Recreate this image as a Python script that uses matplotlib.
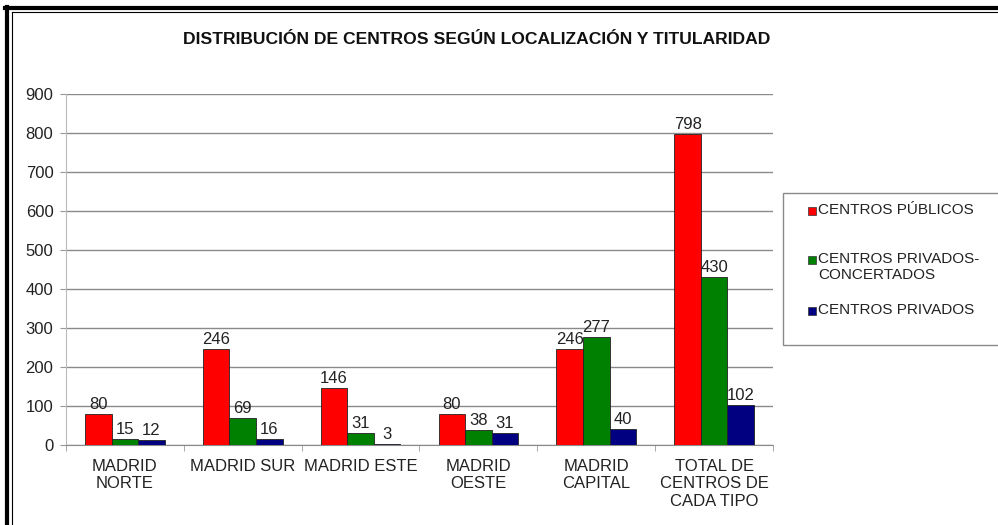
import numpy as np
import matplotlib
matplotlib.use('Agg')
import matplotlib.pyplot as plt
from matplotlib.patches import Rectangle
from matplotlib.lines import Line2D

plt.rcParams['font.family'] = ['Liberation Sans', 'DejaVu Sans']

# Data
categories = ['MADRID\nNORTE', 'MADRID SUR', 'MADRID ESTE', 'MADRID\nOESTE',
              'MADRID\nCAPITAL', 'TOTAL DE\nCENTROS DE\nCADA TIPO']
publicos = [80, 246, 146, 80, 246, 798]
concertados = [15, 69, 31, 38, 277, 430]
privados = [12, 16, 3, 31, 40, 102]
series_names = ['CENTROS PÚBLICOS', 'CENTROS PRIVADOS-\nCONCERTADOS', 'CENTROS PRIVADOS']
colors = ['#FF0000', '#008000', '#000080']

fig = plt.figure(figsize=(9.98, 5.25), dpi=100)
W, H = 998, 525
ax = fig.add_axes([66 / W, 1 - 445 / H, (773 - 66) / W, (445 - 94) / H])

x = np.arange(len(categories))
width = 0.225
series = [publicos, concertados, privados]
for i, (vals, col) in enumerate(zip(series, colors)):
    bars = ax.bar(x + (i - 1) * width, vals, width, color=col,
                  edgecolor='#222222', linewidth=0.6, zorder=3)
    for b, v in zip(bars, vals):
        ax.annotate(str(v), (b.get_x() + b.get_width() / 2, v),
                    xytext=(0, 1.5), textcoords='offset points',
                    ha='center', va='bottom', fontsize=12, color='#222222')

ax.set_xlim(-0.5, len(categories) - 0.5)
ax.set_ylim(0, 900)
ax.set_yticks(np.arange(0, 901, 100))
ax.yaxis.grid(True, color='#8a8a8a', linewidth=1, zorder=0)
ax.set_axisbelow(True)

ax.set_xticks(x)
ax.set_xticklabels(categories, fontsize=12, color='#222222', linespacing=1.2)
ax.set_xticks(np.arange(-0.5, len(categories)), minor=True)
ax.tick_params(axis='x', which='major', length=0, pad=10)
ax.tick_params(axis='x', which='minor', length=4, color='#999999')
ax.tick_params(axis='y', length=4, color='#999999', labelsize=12,
               labelcolor='#222222', pad=5)

for s in ['top', 'right']:
    ax.spines[s].set_visible(False)
ax.spines['left'].set_color('#bbbbbb')
ax.spines['bottom'].set_color('#8a8a8a')

fig.text(477 / W, 1 - 39 / H, 'DISTRIBUCIÓN DE CENTROS SEGÚN LOCALIZACIÓN Y TITULARIDAD',
         ha='center', va='center', fontsize=12.6, fontweight='bold', color='#111111')

# Legend drawn by hand to match the layout
fig.patches.append(Rectangle((783 / W, 1 - 345 / H), 230 / W, 152 / H,
                             transform=fig.transFigure, facecolor='white',
                             edgecolor='#8a8a8a', linewidth=1))
leg_y = [211, 260, 311]
for name, col, yy in zip(series_names, colors, leg_y):
    fig.patches.append(Rectangle((808 / W, 1 - (yy + 4) / H), 8 / W, 8 / H,
                                 transform=fig.transFigure, facecolor=col,
                                 edgecolor='#333333', linewidth=0.5))
    fig.text(818 / W, 1 - (yy - 8) / H, name, ha='left', va='top',
             fontsize=11, color='#222222', linespacing=1.2)

# Page border
fig.add_artist(Line2D([5 / W, 1], [1 - 8 / H, 1 - 8 / H], transform=fig.transFigure,
                      color='black', linewidth=3))
fig.add_artist(Line2D([11.5 / W, 1], [1 - 11.5 / H, 1 - 11.5 / H], transform=fig.transFigure,
                      color='black', linewidth=0.8))
fig.add_artist(Line2D([7 / W, 7 / W], [0, 1 - 6.5 / H], transform=fig.transFigure,
                      color='black', linewidth=3))
fig.add_artist(Line2D([11.5 / W, 11.5 / W], [0, 1 - 11.5 / H], transform=fig.transFigure,
                      color='black', linewidth=0.8))

fig.savefig('out.png', dpi=100)
